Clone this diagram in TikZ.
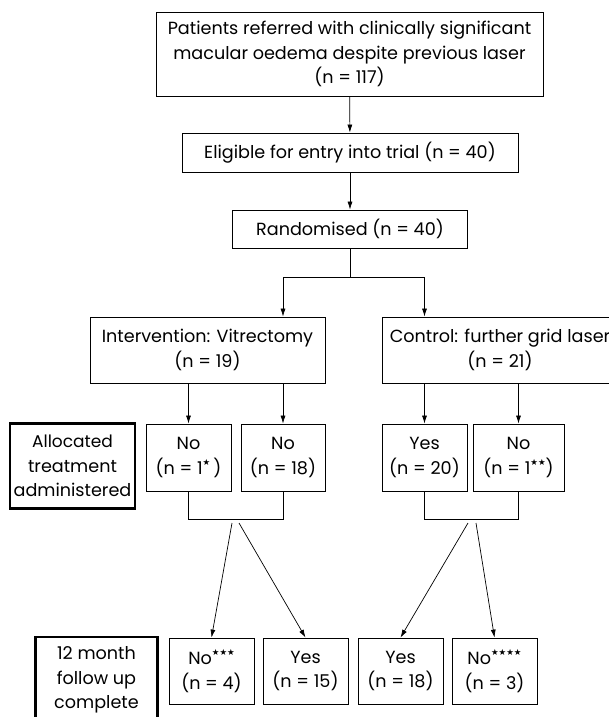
\documentclass[tikz,border=0pt]{standalone}
\usepackage{fontspec}
\setmainfont{Poppins}
\newfontfamily\starfont{DejaVu Sans}
\usetikzlibrary{positioning,arrows.meta}
\newcommand{\stars}[1]{\raisebox{0.52em}{\starfont\fontsize{8.5}{8.5}\selectfont #1}}

\begin{document}
\begin{tikzpicture}[x=1pt,y=-1pt,
    every node/.style={draw, line width=0.8pt, align=center, inner sep=0pt,
      font=\fontsize{17.6}{24.5}\selectfont},
    thickbox/.style={line width=2.6pt},
    arr/.style={-{Latex[length=8pt,width=5pt]}, line width=0.7pt},
    lin/.style={line width=0.7pt}]
  \useasboundingbox (0,0) rectangle (609,717);

  % top of the chart
  \node[minimum width=387pt, minimum height=84pt] (ref) at (349.5,54)
    {Patients referred with clinically significant\\macular oedema despite previous laser\\(n = 117)};
  \node[minimum width=336pt, minimum height=39pt] (elig) at (350,152.5)
    {Eligible for entry into trial (n = 40)};
  \node[minimum width=235pt, minimum height=38pt] (rand) at (350,229)
    {Randomised (n = 40)};

  % the two arms
  \node[minimum width=235pt, minimum height=66pt] (interv) at (207.5,350)
    {Intervention: Vitrectomy\\(n = 19)};
  \node[minimum width=236pt, minimum height=66pt] (ctrl) at (500,350)
    {Control: further grid laser\\(n = 21)};

  % treatment given
  \node[thickbox, minimum width=125pt, minimum height=85pt] (alloc) at (72.5,466)
    {\fontsize{17}{24.5}\selectfont Allocated\\treatment\\administered};
  \node[minimum width=85pt, minimum height=67pt] (n1) at (188.5,457.5) {No\\(n = 1\stars{★}\,)};
  \node[minimum width=84pt, minimum height=67pt] (n2) at (283,457.5) {No\\(n = 18)};
  \node[minimum width=85pt, minimum height=67pt] (n3) at (424.5,457.5) {Yes\\(n = 20)};
  \node[minimum width=91pt, minimum height=67pt] (n4) at (518.5,457.5) {No\\(n = 1\stars{★★})};

  % follow up
  \node[thickbox, minimum width=122pt, minimum height=86pt] (follow) at (96.5,680)
    {12 month\\follow up\\complete};
  \node[minimum width=85pt, minimum height=66pt] (n5) at (211.5,671) {No\stars{★★★}\\(n = 4)};
  \node[minimum width=85pt, minimum height=66pt] (n6) at (305.5,671) {Yes\\(n = 15)};
  \node[minimum width=85pt, minimum height=66pt] (n7) at (400.5,671) {Yes\\(n = 18)};
  \node[minimum width=85pt, minimum height=66pt] (n8) at (494.5,671) {No\stars{★★★★}\\(n = 3)};

  \coordinate (split) at (350,277);
  \coordinate (l1) at (232,523);
  \coordinate (l2) at (239,523);
  \coordinate (r1) at (468,523);
  \coordinate (r2) at (476,523);

  \draw[arr] (ref) -- (elig);
  \draw[arr] (elig) -- (rand);
  \draw[lin] (rand) -- (split);
  \draw[arr] (split) -| (interv.north -| n2);
  \draw[arr] (split) -| (ctrl.north -| n3);

  \draw[arr] (interv.south -| n1) -- (n1);
  \draw[arr] (interv.south -| n2) -- (n2);
  \draw[arr] (ctrl.south -| n3) -- (n3);
  \draw[arr] (ctrl.south -| n4) -- (n4);

  \draw[lin] (n1.south) -- ++(0,28) -| (n2.south);
  \draw[lin] (n3.south) -- ++(0,28) -| (n4.south);

  \draw[arr] (l1) -- (n5.north);
  \draw[arr] (l2) -- (n6.north);
  \draw[arr] (r1) -- (n7.north);
  \draw[arr] (r2) -- (n8.north);
\end{tikzpicture}
\end{document}
